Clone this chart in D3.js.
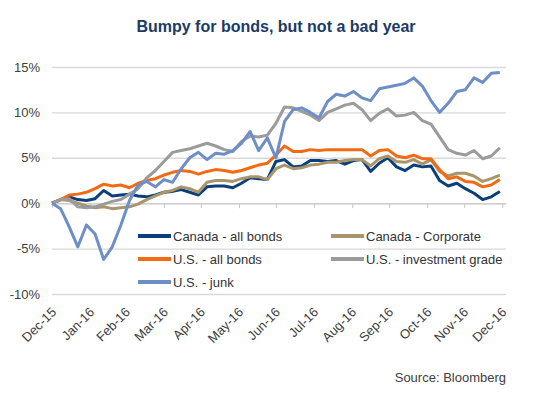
<!DOCTYPE html>
<html>
<head>
<meta charset="utf-8">
<script src="https://cdn.jsdelivr.net/npm/d3@7"></script>
<style>
  body { margin: 0; background: #fff; }
  svg text { font-family: "Liberation Sans", Arial, sans-serif; }
</style>
</head>
<body>
<svg id="chart" width="554" height="399"></svg>
<script>
// weekly total return (%) since 31 Dec 2015
const canadaAll = [0, 0.4, 0.7, 0.4, 0.3, 0.5, 1.4, 0.8, 0.9, 1.0, 0.8, 0.7, 0.9, 1.2, 1.3, 1.5, 1.2, 0.9,
  1.8, 1.9, 1.9, 1.7, 2.2, 2.8, 2.7, 2.6, 4.6, 4.8, 4.0, 4.1, 4.7, 4.7, 4.6, 4.7, 4.3, 4.7, 4.8, 3.5,
  4.4, 5.0, 4.0, 3.6, 4.2, 4.0, 4.1, 2.5, 1.9, 2.2, 1.6, 1.1, 0.4, 0.7, 1.3];
const canadaCorp = [0, 0.4, 0.3, 0.0, -0.3, -0.5, -0.4, -0.6, -0.5, -0.4, -0.1, 0.4, 0.8, 1.2, 1.4, 1.8, 1.6, 1.2,
  2.3, 2.5, 2.5, 2.4, 2.7, 2.9, 2.9, 2.6, 3.8, 4.2, 3.8, 3.9, 4.2, 4.3, 4.5, 4.5, 4.7, 4.8, 4.8, 4.1,
  4.9, 5.2, 4.6, 4.5, 4.8, 4.3, 4.8, 3.5, 3.0, 3.3, 3.3, 3.0, 2.4, 2.7, 3.1];
const usAll = [0, 0.4, 0.9, 1.0, 1.2, 1.6, 2.1, 1.9, 2.0, 1.7, 2.2, 2.5, 2.7, 3.1, 3.4, 3.6, 3.5, 3.2,
  3.5, 3.7, 3.6, 3.4, 3.6, 3.9, 4.2, 4.4, 5.3, 6.3, 5.7, 5.7, 5.9, 5.8, 5.9, 5.9, 5.9, 5.9, 5.9, 5.2,
  5.8, 5.9, 5.2, 5.0, 5.3, 4.9, 4.9, 3.7, 2.7, 2.9, 2.4, 2.3, 1.8, 2.0, 2.6];
const usInvGrade = [0, 0.4, 0.5, -0.4, -0.5, -0.4, -0.1, 0.2, 0.4, 1.0, 1.6, 2.8, 3.6, 4.6, 5.6, 5.8, 6.0, 6.3,
  6.6, 6.3, 5.9, 5.7, 6.8, 7.4, 7.3, 7.5, 8.8, 10.6, 10.5, 10.1, 9.7, 9.1, 10.0, 10.4, 10.8, 11.0, 10.3, 9.1,
  9.9, 10.4, 9.6, 9.7, 10.0, 9.1, 8.7, 7.3, 5.9, 5.5, 5.3, 5.8, 4.9, 5.2, 6.1];
const usJunk = [0, -0.6, -2.6, -4.8, -2.4, -3.4, -6.2, -4.8, -2.4, 0.3, 2.0, 2.4, 1.8, 2.6, 2.3, 3.8, 5.0, 5.6,
  4.8, 5.5, 5.4, 5.8, 6.6, 7.9, 5.8, 7.2, 5.0, 9.0, 10.3, 10.5, 10.0, 9.4, 11.2, 12.0, 11.8, 12.3, 11.6, 11.3,
  12.6, 12.8, 13.0, 13.2, 13.8, 12.9, 11.3, 10.0, 11.0, 12.3, 12.5, 13.8, 13.3, 14.3, 14.4];

const seriesNames = ['Canada - all bonds', 'Canada - Corporate', 'U.S. - all bonds', 'U.S. - investment grade', 'U.S. - junk'];
const seriesColors = ['#0b3f7b', '#a8966a', '#f46a12', '#9b9b9b', '#6d8ec7'];
const yTicks = [-10, -5, 0, 5, 10, 15];
const monthLabels = ['Dec-15', 'Jan-16', 'Feb-16', 'Mar-16', 'Apr-16', 'May-16', 'Jun-16',
  'Jul-16', 'Aug-16', 'Sep-16', 'Oct-16', 'Nov-16', 'Dec-16'];

const startDate = new Date(2015, 11, 31);
const dates = canadaAll.map((d, i) => d3.timeDay.offset(startDate, i * 7));
const series = [canadaAll, canadaCorp, usAll, usInvGrade, usJunk];

// month-end ticks, Dec 31 2015 .. Dec 31 2016
const monthEnds = d3.timeMonth.range(new Date(2016, 0, 1), new Date(2017, 0, 2))
  .map(d => d3.timeDay.offset(d, -1));

const plot = { left: 52, right: 506, top: 67, bottom: 294 };

const svg = d3.select('#chart');

const x = d3.scaleTime()
  .domain([startDate, new Date(2017, 0, 3)])
  .range([plot.left, plot.right]);

const y = d3.scaleLinear()
  .domain([-10, 15])
  .range([plot.bottom, plot.top]);

// title
svg.append('text')
  .attr('x', 276)
  .attr('y', 32)
  .attr('text-anchor', 'middle')
  .attr('font-size', 16)
  .attr('font-weight', 'bold')
  .attr('fill', '#1b3a66')
  .text('Bumpy for bonds, but not a bad year');

// gridlines + y labels
const yAxis = svg.append('g')
  .attr('transform', `translate(${plot.left}, 0)`)
  .call(d3.axisLeft(y)
    .tickValues(yTicks)
    .tickSize(-(plot.right - plot.left))
    .tickPadding(12)
    .tickFormat(d => `${d}%`));

yAxis.select('.domain').remove();
yAxis.selectAll('line')
  .attr('stroke', '#d9d9d9')
  .attr('stroke-width', 1.4);
yAxis.selectAll('text')
  .attr('font-size', 13)
  .attr('fill', '#404040');

// x axis sits on the 0% line
const xAxis = svg.append('g')
  .attr('transform', `translate(0, ${y(0)})`)
  .call(d3.axisBottom(x)
    .tickValues(monthEnds)
    .tickSize(5)
    .tickSizeOuter(0)
    .tickFormat(''));

xAxis.select('.domain')
  .attr('stroke', '#d0d0d0')
  .attr('stroke-width', 1.4);
xAxis.selectAll('line')
  .attr('stroke', '#c8c8c8');

// month labels at bottom, rotated
svg.append('g')
  .selectAll('text')
  .data(monthEnds)
  .join('text')
  .attr('transform', d => `translate(${x(d) + 5}, 313) rotate(-45)`)
  .attr('text-anchor', 'end')
  .attr('font-size', 13)
  .attr('fill', '#404040')
  .text((d, i) => monthLabels[i]);

// lines
const line = d3.line()
  .x((d, i) => x(dates[i]))
  .y(d => y(d));

svg.append('g')
  .selectAll('path')
  .data(series)
  .join('path')
  .attr('fill', 'none')
  .attr('stroke', (d, i) => seriesColors[i])
  .attr('stroke-width', 3)
  .attr('stroke-linejoin', 'round')
  .attr('d', line);

// legend, two columns
const legendPos = [[138, 236], [331, 236], [138, 259], [331, 259], [138, 282]];

const legend = svg.append('g')
  .selectAll('g')
  .data(seriesNames)
  .join('g')
  .attr('transform', (d, i) => `translate(${legendPos[i][0]}, ${legendPos[i][1]})`);

legend.append('line')
  .attr('x1', 0)
  .attr('x2', 33)
  .attr('stroke', (d, i) => seriesColors[i])
  .attr('stroke-width', 4);

legend.append('text')
  .attr('x', 35)
  .attr('dy', '0.35em')
  .attr('font-size', 13)
  .attr('fill', '#333')
  .text(d => d);

// source
svg.append('text')
  .attr('x', plot.right)
  .attr('y', 382)
  .attr('text-anchor', 'end')
  .attr('font-size', 13)
  .attr('fill', '#404040')
  .text('Source: Bloomberg');
</script>
</body>
</html>
